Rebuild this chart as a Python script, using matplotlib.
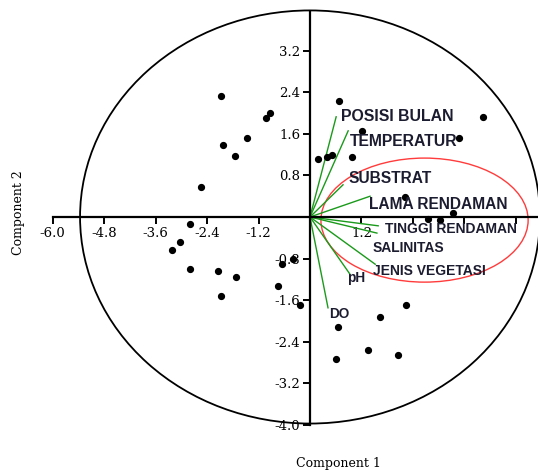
import matplotlib.pyplot as plt
from matplotlib.patches import Ellipse

# scores (component 1, component 2)
pc1 = [-2.07, -1.02, -0.93, -1.47, -2.03, -1.75, -2.54, -2.80, -3.03, -3.22,
       -2.80, -2.15, -1.72, -2.07, -0.75, -0.65, -0.40, -0.23, 0.68, 0.19,
       0.40, 0.51, 0.98, 1.21, 4.03, 3.47, 2.21, 2.75, 3.03, 3.33,
       0.65, 1.63, 2.24, 0.61, 1.35, 2.05]
pc2 = [2.33, 1.91, 2.00, 1.52, 1.39, 1.18, 0.58, -0.13, -0.48, -0.64,
       -1.00, -1.04, -1.16, -1.52, -1.33, -0.91, -0.81, -1.70, 2.24, 1.12,
       1.16, 1.19, 1.16, 1.66, 1.93, 1.52, 0.39, -0.04, -0.06, 0.08,
       -2.12, -1.93, -1.70, -2.74, -2.56, -2.66]

# variable loadings (scaled)
var_names = ["POSISI BULAN", "TEMPERATUR", "SUBSTRAT", "LAMA RENDAMAN",
             "TINGGI RENDAMAN", "SALINITAS", "JENIS VEGETASI", "pH", "DO"]
load1 = [0.61, 0.89, 0.77, 1.40, 1.59, 1.56, 1.52, 0.93, 0.42]
load2 = [1.93, 1.66, 0.62, 0.40, -0.17, -0.31, -0.91, -1.10, -1.75]
label_x = [0.72, 0.93, 0.89, 1.38, 1.75, 1.47, 1.47, 0.86, 0.44]
label_y = [1.93, 1.45, 0.75, 0.25, -0.23, -0.60, -1.04, -1.18, -1.87]
label_size = [11.4, 11.3, 11.2, 11.2, 10, 10, 10, 9.8, 9.8]

xticks = [-6.0, -4.8, -3.6, -2.4, -1.2, 1.2, 2.4, 3.6, 4.8]
xtick_labels = ["-6.0", "-4.8", "-3.6", "-2.4", "-1.2", "1.2", "", "", ""]
yticks = [3.2, 2.4, 1.6, 0.8, -0.8, -1.6, -2.4, -3.2, -4.0]
ytick_labels = ["3.2", "2.4", "1.6", "0.8", "-0.8", "-1.6", "-2.4", "-3.2", "-4.0"]

fig = plt.figure(figsize=(5.38, 4.70), dpi=100)
ax = fig.add_axes([0, 0, 1, 1])
ax.set_xlim(-7.226, 5.315)
ax.set_ylim(-4.875, 4.181)

for s in ["top", "right"]:
    ax.spines[s].set_visible(False)
ax.spines["left"].set_position(("data", 0))
ax.spines["bottom"].set_position(("data", 0))
ax.spines["left"].set_bounds(-4.0, 3.95)
ax.spines["bottom"].set_bounds(-6.0, 5.315)
ax.spines["left"].set_linewidth(1.6)
ax.spines["bottom"].set_linewidth(1.6)

ax.set_xticks(xticks)
ax.set_xticklabels(xtick_labels, family="DejaVu Serif", fontsize=9.5)
ax.set_yticks(yticks)
ax.set_yticklabels(ytick_labels, family="DejaVu Serif", fontsize=9.5)
ax.tick_params(axis="both", direction="out", length=5, width=1.4, pad=2)

ax.add_patch(Ellipse((0, 0), 2 * 5.36, 2 * 3.98, fill=False, color="black", lw=1.3))
ax.add_patch(Ellipse((2.67, -0.06), 4.83, 2.39, fill=False, color="#ff3b3b", lw=1.0))

ax.plot(pc1, pc2, "o", color="black", ms=4.2, zorder=5)

for i in range(len(var_names)):
    ax.plot([0, load1[i]], [0, load2[i]], color="#1a9a1a", lw=1.0)
    ax.text(label_x[i], label_y[i], var_names[i], fontsize=label_size[i],
            fontweight="bold", family="Liberation Sans", color="#1c1c30",
            ha="left", va="center", zorder=6)

fig.text(338 / 538, 1 - 463 / 470, "Component 1", family="DejaVu Serif",
         fontsize=9, ha="center", va="center")
fig.text(19 / 538, 1 - 213 / 470, "Component 2", family="DejaVu Serif",
         fontsize=9, ha="center", va="center", rotation=90)

fig.savefig("out.png", dpi=100)
